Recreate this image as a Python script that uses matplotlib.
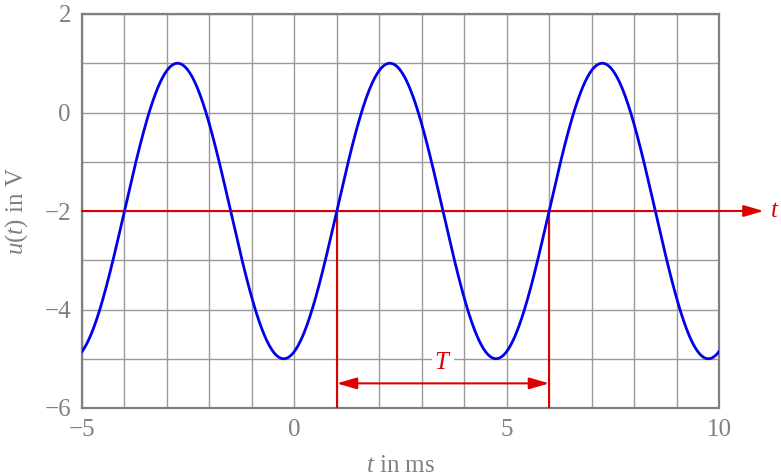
import numpy as np
import matplotlib
matplotlib.use('Agg')
import matplotlib.pyplot as plt

plt.rcParams['font.family'] = 'Liberation Serif'
plt.rcParams['mathtext.fontset'] = 'custom'
plt.rcParams['mathtext.it'] = 'Liberation Serif:italic'
plt.rcParams['mathtext.rm'] = 'Liberation Serif'

# signal
offset = -2.0      # V
amplitude = 3.0    # V
period = 5.0       # ms
t_start = 1.0      # ms, upward crossing of offset
t_range = (-5, 10)

xticks = [-5, 0, 5, 10]
yticks = [-6, -4, -2, 0, 2]

gray = '#808080'
red = '#dd0000'
blue = '#0000ee'

t = np.linspace(t_range[0], t_range[1], 1500)
u = offset + amplitude * np.sin(2 * np.pi * (t - t_start) / period)

fig = plt.figure(figsize=(7.81, 4.76), dpi=100)
ax = fig.add_axes([82/781, 1 - 408/476, (719-82)/781, (408-14)/476])

ax.set_xlim(-5, 10)
ax.set_ylim(-6, 2)
ax.set_xticks(xticks)
ax.set_yticks(yticks)
ax.set_xticks(np.arange(-5, 11, 1), minor=True)
ax.set_yticks(np.arange(-6, 3, 1), minor=True)
ax.grid(True, which='both', color='#999999', lw=1.0)
ax.set_axisbelow(True)
ax.tick_params(which='both', length=0, labelsize=18, labelcolor=gray, pad=8)
ax.set_xticklabels(['\u22125', '0', '5', '10'])
ax.set_yticklabels(['\u22126', '\u22124', '\u22122', '0', '2'])
for s in ax.spines.values():
    s.set_color(gray)
    s.set_linewidth(1.6)

ax.set_xlabel(r'$t$ in ms', fontsize=18, color=gray, labelpad=10)
ax.set_ylabel(r'$u(t)$ in V', fontsize=18, color=gray, labelpad=10)

ax.plot(t, u, color=blue, lw=2, zorder=4)

# time axis arrow at offset level
ax.annotate('', xy=(11.05, offset), xytext=(-5, offset), annotation_clip=False,
            arrowprops=dict(arrowstyle='-|>,head_length=1.2,head_width=0.35',
                            color=red, lw=1.5, shrinkA=0, shrinkB=0), zorder=3)
ax.text(11.2, offset, r'$t$', color=red, fontsize=18, va='center', ha='left',
        clip_on=False)

# period marker
ax.vlines([t_start, t_start + period], -6, offset, color=red, lw=1.5, zorder=3)
ax.annotate('', xy=(t_start + period, -5.5), xytext=(t_start, -5.5),
            arrowprops=dict(arrowstyle='<|-|>,head_length=1.2,head_width=0.35',
                            color=red, lw=1.5, shrinkA=0, shrinkB=0), zorder=3)
ax.text(t_start + period / 2, -5.08, r'$T$', color=red, fontsize=18,
        ha='center', va='center', zorder=5,
        bbox=dict(facecolor='white', edgecolor='none', pad=2))

fig.savefig('out.png', dpi=100)
